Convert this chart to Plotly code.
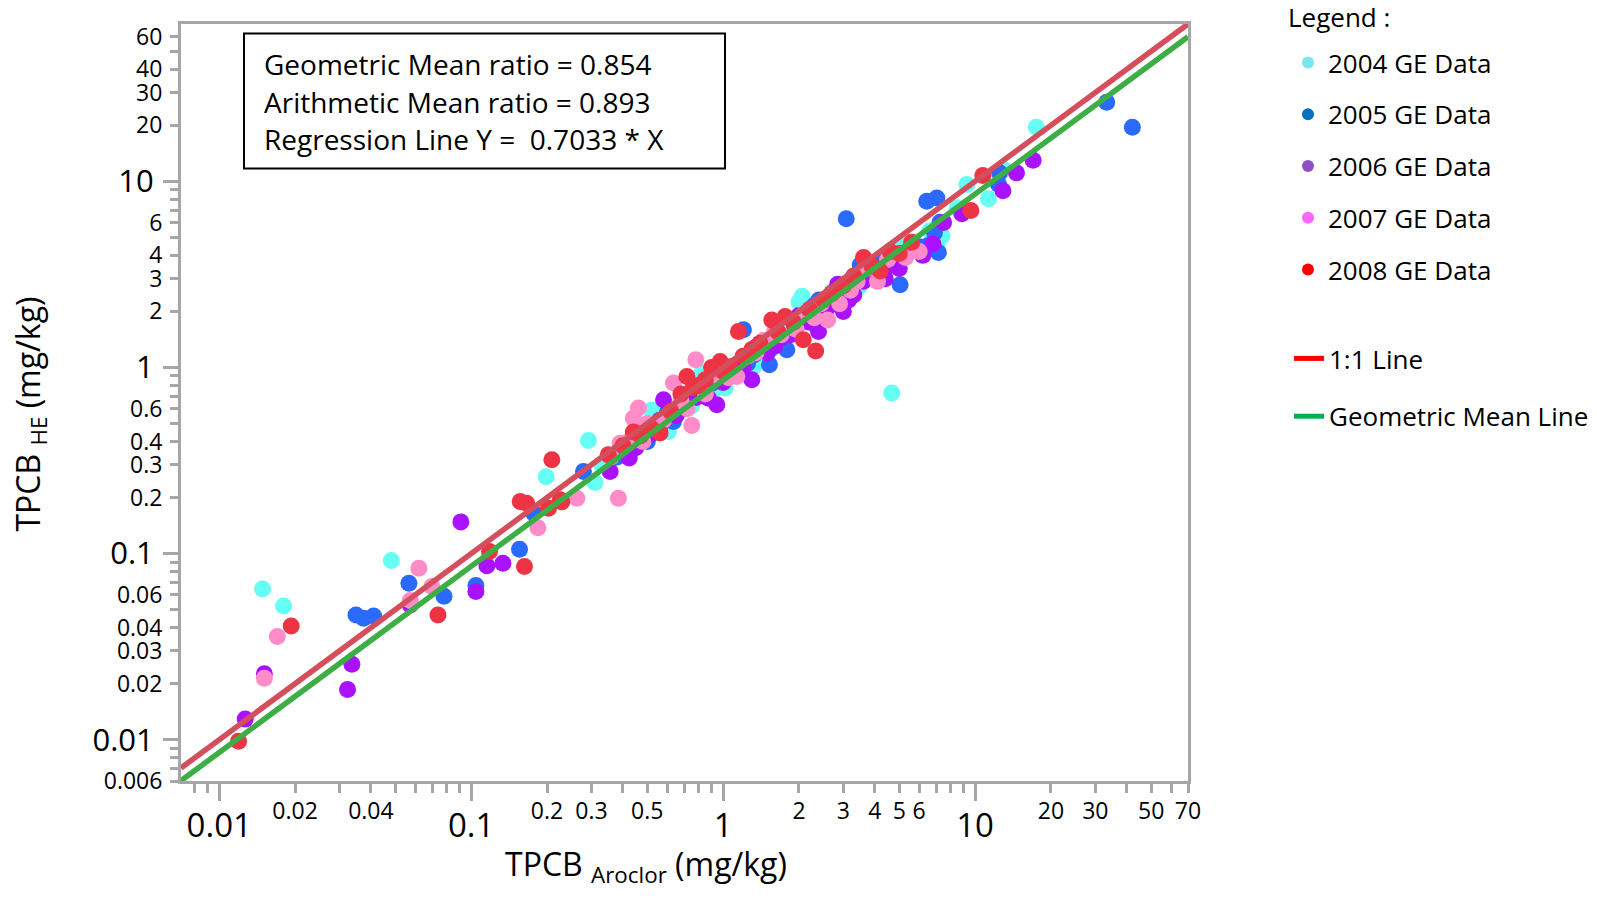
import math
import plotly.graph_objects as go

# ---------------- data (TPCB Aroclor vs TPCB HE, mg/kg) ----------------
x2004 = [0.01485, 0.0180, 0.0482, 0.1985, 0.292, 0.310, 0.33, 0.36, 0.42, 0.46, 0.52, 0.55, 0.607,
         0.66, 0.72, 0.78, 0.823, 0.88, 0.95, 1.018, 1.10, 1.20, 1.32, 1.45, 1.62, 1.75, 1.90, 2.06,
         2.00, 2.20, 2.45, 2.70, 3.00, 3.30, 3.60, 4.00, 4.67, 5.05, 5.50, 6.94, 7.10, 9.27, 11.3,
         13.0, 17.5,
         0.40, 0.48, 0.58, 0.63, 0.70, 0.75, 0.92, 1.15, 1.38, 1.55, 2.30, 2.55, 2.85, 3.15, 3.45,
         4.30, 4.80, 6.60, 7.40, 8.50]
y2004 = [0.0646, 0.0523, 0.0917, 0.259, 0.405, 0.241, 0.30, 0.33, 0.37, 0.43, 0.59, 0.50, 0.453,
         0.58, 0.64, 0.70, 0.933, 0.80, 0.78, 0.775, 0.92, 1.08, 1.01, 1.30, 1.42, 1.60, 1.62, 2.41,
         2.25, 1.95, 2.10, 2.55, 2.60, 3.10, 3.00, 3.45, 0.728, 4.60, 4.20, 5.06, 4.75, 9.6, 8.07,
         11.6, 19.5,
         0.36, 0.47, 0.55, 0.52, 0.68, 0.62, 0.85, 0.98, 1.18, 1.25, 2.05, 2.30, 2.45, 2.80, 2.70,
         3.60, 4.10, 5.40, 5.10, 7.20]

x2005 = [0.0349, 0.0374, 0.0410, 0.0566, 0.0780, 0.1044, 0.1555, 0.1767, 0.279, 0.38, 0.455, 0.50,
         0.635, 0.70, 0.787, 0.90, 1.05, 1.204, 1.25, 1.40, 1.527, 1.60, 1.790, 1.95, 2.15, 2.40,
         2.65, 3.08, 3.20, 3.50, 3.80, 4.20, 5.04, 5.60, 6.43, 7.05, 7.26, 7.15, 6.50, 12.5, 12.4,
         33.3, 42.1,
         0.42, 0.47, 0.56, 0.60, 0.75, 0.84, 0.98, 1.12, 1.33, 1.70, 2.05, 2.30, 2.80, 3.40, 4.00,
         4.60, 6.00, 6.90]
y2005 = [0.0468, 0.0449, 0.0462, 0.0693, 0.0590, 0.0673, 0.1056, 0.165, 0.276, 0.33, 0.482, 0.40,
         0.513, 0.66, 0.698, 0.82, 0.90, 1.595, 1.05, 1.28, 1.034, 1.45, 1.245, 1.70, 1.90, 2.30,
         2.35, 6.30, 2.75, 3.55, 3.20, 3.70, 2.78, 4.40, 7.81, 8.14, 6.02, 4.15, 4.50, 11.1, 9.60,
         26.6, 19.5,
         0.39, 0.44, 0.47, 0.57, 0.71, 0.74, 0.86, 1.02, 1.17, 1.35, 1.75, 2.15, 2.50, 3.00, 3.55,
         4.00, 4.45, 5.30]

x2006 = [0.01268, 0.0151, 0.0336, 0.0323, 0.0573, 0.0910, 0.1154, 0.1336, 0.1044, 0.356, 0.424,
         0.58, 0.874, 0.944, 0.52, 0.65, 1.10, 1.30, 1.36, 1.50, 1.70, 2.39, 2.20, 2.60, 2.85, 3.00,
         3.30, 3.60, 4.00, 4.40, 5.00, 5.69, 6.20, 8.86, 12.9, 14.6, 17.0,
         0.45, 0.49, 0.56, 0.70, 0.78, 0.82, 1.00, 1.20, 1.60, 1.85, 2.00, 2.45, 2.70, 3.15, 3.80,
         4.50, 5.30, 6.80, 7.50]
y2006 = [0.0129, 0.0226, 0.0254, 0.0186, 0.0530, 0.148, 0.0859, 0.0888, 0.0625, 0.276, 0.326,
         0.670, 0.684, 0.630, 0.44, 0.55, 0.95, 0.859, 1.297, 1.20, 1.45, 1.56, 1.75, 2.10, 2.80, 2.00,
         2.45, 2.90, 3.20, 3.00, 3.40, 4.30, 4.00, 6.70, 8.9, 11.1, 12.97,
         0.37, 0.46, 0.52, 0.60, 0.69, 0.71, 0.83, 1.00, 1.30, 1.50, 1.90, 2.05, 2.35, 2.30, 3.30,
         3.50, 4.00, 4.60, 6.00]

x2007 = [0.0170, 0.0151, 0.0620, 0.0573, 0.0698, 0.184, 0.2627, 0.384, 0.390, 0.44, 0.461, 0.48,
         0.55, 0.635, 0.751, 0.779, 0.85, 1.133, 1.25, 1.45, 1.70, 1.95, 2.30, 2.60, 2.90, 3.20,
         3.70, 4.10, 5.30, 6.00,
         0.36, 0.42, 0.50, 0.58, 0.68, 0.72, 0.95, 1.05, 1.35, 1.60, 2.10, 2.45, 2.75, 3.40, 4.50]
y2007 = [0.0358, 0.0214, 0.0835, 0.0560, 0.0665, 0.1375, 0.1985, 0.1985, 0.392, 0.534, 0.605, 0.40,
         0.46, 0.824, 0.488, 1.10, 0.72, 0.895, 1.15, 1.40, 1.50, 1.60, 1.85, 1.80, 2.20, 2.60,
         3.40, 2.90, 3.90, 4.20,
         0.33, 0.40, 0.50, 0.52, 0.66, 0.60, 0.90, 0.88, 1.20, 1.55, 1.95, 2.20, 2.45, 2.90, 3.80]

x2008 = [0.01193, 0.0193, 0.0738, 0.1182, 0.1627, 0.1565, 0.166, 0.2027, 0.229, 0.209, 0.2255,
         0.562, 0.718, 0.973, 1.066, 1.150, 1.56, 1.762, 2.08, 2.33, 0.40, 0.47, 0.62, 0.80, 0.90,
         1.30, 2.50, 3.00, 3.61, 4.20, 10.73, 9.62, 5.0,
         0.35, 0.44, 0.52, 0.68, 0.76, 0.85, 1.00, 1.20, 1.40, 1.65, 1.90, 2.20, 2.70, 3.30, 3.90,
         4.60, 5.60]
y2008 = [0.0098, 0.0408, 0.0468, 0.1025, 0.0851, 0.1905, 0.1866, 0.1754, 0.19, 0.319, 0.1945,
         0.444, 0.895, 1.077, 1.01, 1.562, 1.80, 1.88, 1.41, 1.225, 0.38, 0.43, 0.58, 0.80, 1.00,
         1.25, 2.30, 2.75, 3.90, 3.30, 10.74, 6.96, 4.1,
         0.34, 0.45, 0.47, 0.72, 0.78, 0.86, 0.95, 1.15, 1.35, 1.55, 1.75, 2.05, 2.50, 3.10, 3.50,
         4.20, 4.70]

series_names = ["2004 GE Data", "2005 GE Data", "2006 GE Data", "2007 GE Data", "2008 GE Data"]
point_colors = ["#66FFF4", "#2A6AFF", "#AA11FF", "#FF8CC8", "#EE3344"]
legend_colors = ["#78E6EE", "#0070C0", "#9150C8", "#FF66FF", "#FF0000"]

# reference lines
X_MIN, X_MAX = 0.00705, 70
Y_MIN, Y_MAX = 0.006, 70
line_x = [X_MIN, X_MAX]
line_1to1 = [X_MIN, X_MAX]
GM_RATIO = 0.854
line_gm = [X_MIN * GM_RATIO, X_MAX * GM_RATIO]

# tick values / labels
x_minor_vals = [0.008, 0.009, 0.02, 0.03, 0.04, 0.05, 0.06, 0.07, 0.08, 0.09,
                0.2, 0.3, 0.4, 0.5, 0.6, 0.7, 0.8, 0.9, 2, 3, 4, 5, 6, 7, 8, 9,
                20, 30, 40, 50, 60, 70]
x_minor_text = ["", "", "0.02", "", "0.04", "", "", "", "", "",
                "0.2", "0.3", "", "0.5", "", "", "", "", "2", "3", "4", "5", "6", "", "", "",
                "20", "30", "", "50", "", "70"]
x_major_vals = [0.01, 0.1, 1, 10]
x_major_text = ["0.01", "0.1", "1", "10"]

y_minor_vals = [0.006, 0.007, 0.008, 0.009, 0.02, 0.03, 0.04, 0.05, 0.06, 0.07, 0.08, 0.09,
                0.2, 0.3, 0.4, 0.5, 0.6, 0.7, 0.8, 0.9, 2, 3, 4, 5, 6, 7, 8, 9,
                20, 30, 40, 50, 60]
y_minor_text = ["0.006", "", "", "", "0.02", "0.03", "0.04", "", "0.06", "", "", "",
                "0.2", "0.3", "0.4", "", "0.6", "", "", "", "2", "3", "4", "", "6", "", "", "",
                "20", "30", "40", "", "60"]
y_major_vals = [0.01, 0.1, 1, 10]
y_major_text = ["0.01", "0.1", "1", "10"]

FONT = "Open Sans"
AXIS_GRAY = "#A6A6A6"

fig = go.Figure()

xs = [x2004, x2005, x2006, x2007, x2008]
ys = [y2004, y2005, y2006, y2007, y2008]
for name, xv, yv, col in zip(series_names, xs, ys, point_colors):
    fig.add_trace(go.Scatter(x=xv, y=yv, mode="markers", name=name, showlegend=False,
                             marker=dict(size=17, color=col, line=dict(width=0))))

fig.add_trace(go.Scatter(x=line_x, y=line_gm, mode="lines", showlegend=False,
                         line=dict(color="#3DAE45", width=5.5)))
fig.add_trace(go.Scatter(x=line_x, y=line_1to1, mode="lines", showlegend=False,
                         line=dict(color="#D44F5B", width=5.5)))

# legend entries
for i, (name, col) in enumerate(zip(series_names, legend_colors)):
    fig.add_trace(go.Scatter(x=[None], y=[None], mode="markers", name=name,
                             legend="legend", legendgroup="g%d" % i,
                             marker=dict(size=12, color=col)))
fig.add_trace(go.Scatter(x=[None], y=[None], mode="lines", name="1:1 Line",
                         legend="legend2", legendgroup="l1",
                         line=dict(color="#FF0000", width=5)))
fig.add_trace(go.Scatter(x=[None], y=[None], mode="lines", name="Geometric Mean Line",
                         legend="legend2", legendgroup="l2",
                         line=dict(color="#00B050", width=5)))

xr = [math.log10(X_MIN), math.log10(X_MAX)]
yr = [math.log10(Y_MIN), math.log10(Y_MAX)]

common = dict(showgrid=False, zeroline=False, tickcolor=AXIS_GRAY, tickwidth=3, ticks="outside")

fig.update_layout(
    width=1597, height=899,
    margin=dict(l=181, r=409, t=24, b=118),
    paper_bgcolor="white", plot_bgcolor="white",
    font=dict(family=FONT, color="black"),
    xaxis=dict(type="log", range=xr, tickmode="array", tickvals=x_minor_vals, ticktext=x_minor_text,
               ticklen=9, ticklabelstandoff=-2, tickfont=dict(size=23),
               showline=True, linecolor=AXIS_GRAY, linewidth=3, mirror=True, **common),
    xaxis2=dict(type="log", range=xr, overlaying="x", anchor="y", side="bottom",
                tickmode="array", tickvals=x_major_vals, ticktext=x_major_text,
                ticklen=19, ticklabelstandoff=-4, tickfont=dict(size=33), showline=False, **common),
    yaxis=dict(type="log", range=yr, tickmode="array", tickvals=y_minor_vals, ticktext=y_minor_text,
               ticklen=8, ticklabelstandoff=3, tickfont=dict(size=23),
               showline=True, linecolor=AXIS_GRAY, linewidth=3, mirror=True, **common),
    yaxis2=dict(type="log", range=yr, overlaying="y", anchor="x", side="left",
                tickmode="array", tickvals=y_major_vals, ticktext=y_major_text,
                ticklen=17, ticklabelstandoff=3, tickfont=dict(size=31), showline=False, **common),
    legend=dict(xref="container", yref="container", x=1288 / 1597, y=1 - 39 / 899,
                xanchor="left", yanchor="top", bgcolor="rgba(0,0,0,0)",
                font=dict(size=26), tracegroupgap=15, traceorder="grouped"),
    legend2=dict(xref="container", yref="container", x=1289 / 1597, y=1 - 335 / 899,
                 xanchor="left", yanchor="top", bgcolor="rgba(0,0,0,0)",
                 font=dict(size=26), tracegroupgap=21, traceorder="grouped"),
)

# make the overlay axes visible (attach an invisible trace)
fig.add_trace(go.Scatter(x=[None], y=[None], xaxis="x2", yaxis="y2", showlegend=False))

# legend heading
fig.add_annotation(text="Legend :", xref="paper", yref="paper",
                   x=(1286 - 181) / 1007, y=(781.3 - 18) / 756.8, xanchor="left", yanchor="middle",
                   showarrow=False, font=dict(size=26))

# statistics box
fig.add_shape(type="rect", xref="paper", yref="paper",
              x0=(244 - 181) / 1007, x1=(725 - 181) / 1007,
              y0=(781.3 - 169) / 756.8, y1=(781.3 - 34) / 756.8,
              line=dict(color="black", width=2), fillcolor="rgba(0,0,0,0)", layer="above")
box_lines = ["Geometric Mean ratio = 0.854", "Arithmetic Mean ratio = 0.893",
             "Regression Line Y =  0.7033 * X"]
for txt, ypix in zip(box_lines, [64, 102, 139.5]):
    fig.add_annotation(text=txt, xref="paper", yref="paper", x=(262 - 181) / 1007,
                       y=(781.3 - ypix) / 756.8, xanchor="left", yanchor="middle",
                       showarrow=False, font=dict(size=28, family=FONT))

# axis titles
fig.add_annotation(text="TPCB <sub>Aroclor</sub> (mg/kg)", xref="paper", yref="paper",
                   x=(646 - 181) / 1007, y=(781.3 - 866) / 756.8, xanchor="center", yanchor="middle",
                   showarrow=False, font=dict(size=32))
fig.add_annotation(text="TPCB <sub>HE</sub> (mg/kg)", xref="paper", yref="paper",
                   x=(30 - 181) / 1007, y=(781.3 - 415) / 756.8, xanchor="center", yanchor="middle",
                   textangle=-90, showarrow=False, font=dict(size=32))

fig.write_html("out.html")
